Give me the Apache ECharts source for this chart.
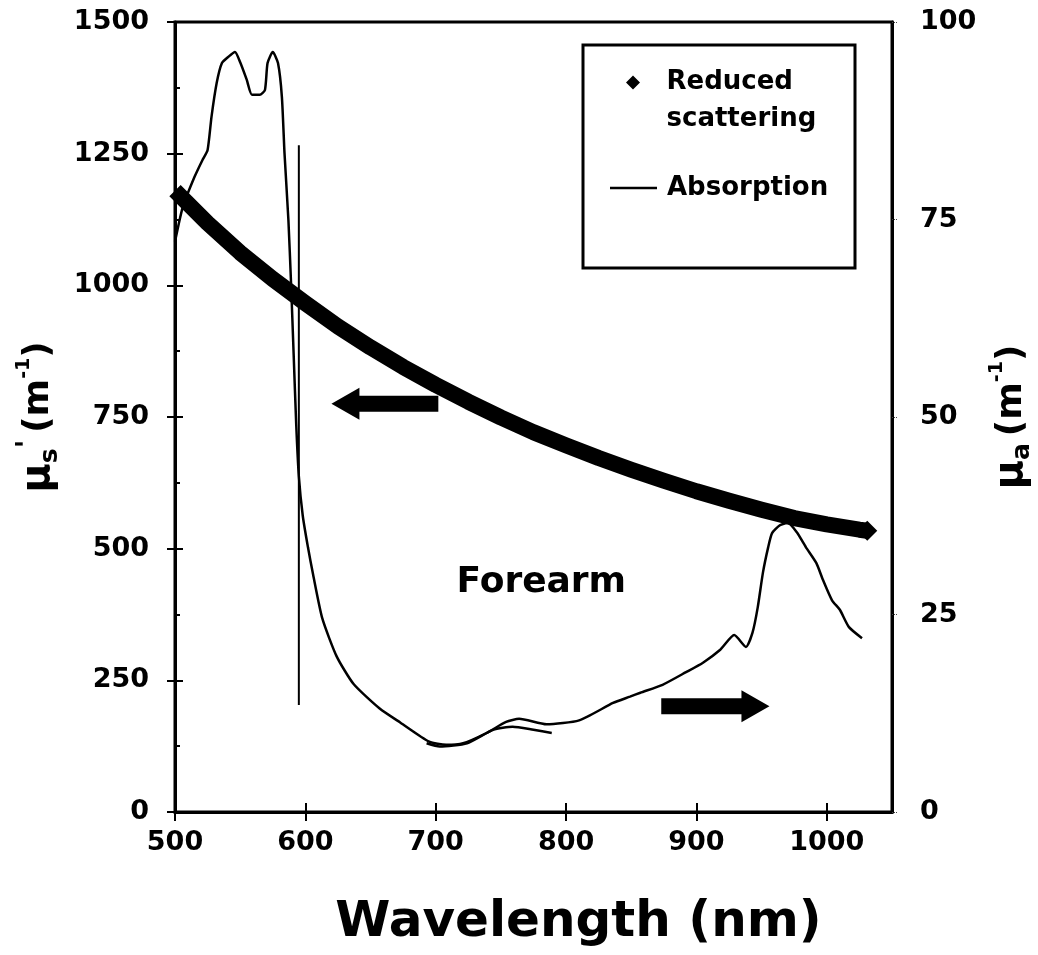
<!DOCTYPE html>
<html>
<head>
<meta charset="utf-8">
<title>Forearm</title>
<script src="https://cdn.jsdelivr.net/npm/echarts@6/dist/echarts.min.js"></script>
<style>
  html, body { margin: 0; padding: 0; background: #fff; }
  #chart-container { width: 1038px; height: 955px; }
</style>
</head>
<body>
<div id="chart-container"></div>
<script>
// reduced scattering, mu_s' (1/m)
var scatterNm = [500, 525, 550, 575, 600, 625, 650, 675, 700, 725, 750, 775, 800, 825, 850, 875, 900, 925, 950, 975, 1000, 1025, 1031];
var scatterVal = [1180, 1118, 1062, 1012, 966, 922, 882, 845, 811, 779, 749, 721, 696, 672, 650, 629, 609, 591, 574, 558, 546, 536, 534];

// absorption, mu_a (1/m)
var absNm = [500, 506, 515, 521, 525, 528, 532, 536, 541, 546, 550, 555, 559, 565, 569, 571, 575, 579, 582, 584, 587, 589, 591, 593, 595, 598, 602, 606, 613, 624, 637, 657, 673, 695, 708, 721, 739, 754, 764, 785, 810, 836, 849, 857, 874, 892, 905, 918, 929, 938, 943, 947, 951, 955, 958, 964, 970, 977, 984, 992, 997, 1004, 1010, 1017, 1027];
var absVal = [72.2, 76.6, 80.4, 82.5, 83.8, 88.0, 92.3, 94.8, 95.6, 96.2, 94.9, 92.7, 90.8, 90.8, 91.4, 94.8, 96.2, 94.8, 90.5, 83.4, 74.9, 67.0, 58.0, 49.0, 42.5, 37.5, 33.5, 30.0, 24.5, 19.7, 16.2, 13.1, 11.3, 8.9, 8.5, 8.7, 10.0, 11.4, 11.8, 11.1, 11.6, 13.8, 14.6, 15.1, 16.1, 17.7, 18.9, 20.5, 22.4, 20.9, 22.7, 25.9, 30.3, 33.5, 35.3, 36.3, 36.6, 35.4, 33.5, 31.5, 29.4, 26.8, 25.6, 23.4, 22.0];

// second (repeat) absorption trace around the minimum
var absNm2 = [693, 703, 724, 744, 759, 775, 789];
var absVal2 = [8.7, 8.3, 8.7, 10.4, 10.8, 10.4, 10.0];

// stray vertical trace near 595 nm (left axis units)
var traceNm = [595, 595];
var traceVal = [1266, 203];

// axis ranges: [min, max, interval]
var xRange = [500, 1050, 100];
var leftRange = [0, 1500, 250];
var rightRange = [0, 100, 25];

function pairs(xs, ys) {
  return xs.map(function (x, i) { return [x, ys[i]]; });
}

var FONT = "DejaVu Sans";
var black = "#000";

var dom = document.getElementById("chart-container");
var myChart = echarts.init(dom, null, { renderer: "canvas" });

function tok(size, extra) {
  var s = { fontFamily: FONT, fontWeight: "bold", color: black, fontSize: size };
  for (var k in extra) s[k] = extra[k];
  return s;
}

function plain(v) {
  return String(v);
}

var scatterData = pairs(scatterNm, scatterVal);
var last = scatterData.pop();
scatterData.push({ value: last, symbol: "diamond", symbolSize: 20 });

var titleRich = {
  mu: tok(40, { lineHeight: 48 }),
  sub: tok(25, { verticalAlign: "bottom", lineHeight: 20 }),
  pr: tok(28, { verticalAlign: "top", lineHeight: 24 }),
  sp: tok(20, {}),
  par: tok(36, { lineHeight: 48 }),
  sup: tok(19, { verticalAlign: "top", lineHeight: 16 }),
};

var option;
option = {
  animation: false,
  backgroundColor: "#fff",
  grid: {
    left: 175, right: 146, top: 22, bottom: 143,
    outerBoundsMode: "none",
    containLabel: false,
    show: true, borderColor: black, borderWidth: 3,
  },
  legend: [
    {
      data: [{ name: "Reduced scattering", icon: "path://M7,0L14,7L7,14L0,7Z M7,51L7.01,51" }],
      orient: "vertical",
      left: 626, top: 64, padding: 0,
      itemWidth: 47, itemHeight: 51,
      symbolKeepAspect: true,
      itemStyle: { color: black, borderWidth: 0 },
      formatter: function () { return "Reduced\nscattering"; },
      textStyle: { fontFamily: FONT, fontWeight: "bold", fontSize: 26, color: black, lineHeight: 37, padding: [0, 0, 0, 5] },
    },
    {
      data: [{ name: "Absorption", icon: "path://M0,0L47,0L47,2.5L0,2.5Z" }],
      orient: "vertical",
      left: 610, top: 173, padding: 0,
      itemWidth: 47, itemHeight: 14,
      symbolKeepAspect: true,
      itemStyle: { color: black, borderWidth: 0 },
      textStyle: { fontFamily: FONT, fontWeight: "bold", fontSize: 26, color: black, lineHeight: 30, padding: [0, 0, 0, 5] },
    },
  ],
  xAxis: [
    {
      type: "value",
      min: xRange[0], max: xRange[1], interval: xRange[2],
      position: "bottom",
      axisLine: { onZero: false, lineStyle: { color: black, width: 3 } },
      axisTick: { length: 9, lineStyle: { color: black, width: 2 } },
      axisLabel: { showMaxLabel: false, margin: 17, formatter: plain, fontFamily: FONT, fontWeight: "bold", fontSize: 27, color: black },
      splitLine: { show: false },
      name: "Wavelength (nm)",
      nameLocation: "middle",
      nameGap: 86,
      nameTextStyle: { fontFamily: FONT, fontWeight: "bold", fontSize: 50, color: black, padding: [0, 0, 0, 90] },
    },
    {
      // inner half of the crossing ticks
      type: "value",
      min: xRange[0], max: xRange[1], interval: xRange[2],
      position: "bottom",
      axisLine: { show: false, onZero: false },
      axisTick: { show: true, inside: true, length: 9, lineStyle: { color: black, width: 2 } },
      axisLabel: { show: false },
      splitLine: { show: false },
    },
  ],
  yAxis: [
    {
      type: "value",
      min: leftRange[0], max: leftRange[1], interval: leftRange[2],
      position: "left",
      axisLine: { show: true, lineStyle: { color: black, width: 3 } },
      axisTick: { length: 8, lineStyle: { color: black, width: 2 } },
      axisLabel: { margin: 26, formatter: plain, fontFamily: FONT, fontWeight: "bold", fontSize: 27, color: black },
      splitLine: { show: false },
      name: "{mu|μ}{sub|s}{pr|'}{sp| }{par|(m}{sup|-1}{par|)}",
      nameLocation: "middle",
      nameRotate: 90,
      nameGap: 106,
      nameTextStyle: { rich: titleRich },
    },
    {
      type: "value",
      min: rightRange[0], max: rightRange[1], interval: rightRange[2],
      position: "right",
      axisLine: { show: true, lineStyle: { color: black, width: 3 } },
      axisTick: { length: 6, lineStyle: { color: "#444", width: 1, type: "dotted" } },
      axisLabel: { margin: 28, formatter: plain, fontFamily: FONT, fontWeight: "bold", fontSize: 27, color: black },
      splitLine: { show: false },
      name: "{mu|μ}{sub|a}{sp| }{par|(m}{sup|-1}{par|)}",
      nameLocation: "middle",
      nameRotate: 90,
      nameGap: 92,
      nameTextStyle: { rich: titleRich },
    },
    {
      // inner half of the left ticks + minor ticks
      type: "value",
      min: leftRange[0], max: leftRange[1], interval: leftRange[2],
      position: "left",
      axisLine: { show: false },
      axisTick: { show: true, inside: true, length: 8, lineStyle: { color: black, width: 2 } },
      minorTick: { show: true, splitNumber: 2, length: 5, lineStyle: { color: black, width: 2 } },
      axisLabel: { show: false },
      splitLine: { show: false },
    },
  ],
  series: [
    {
      name: "Reduced scattering",
      type: "line",
      xAxisIndex: 0, yAxisIndex: 0,
      data: scatterData,
      symbol: "none",
      itemStyle: { color: black },
      lineStyle: { color: black, width: 16, join: "round" },
      z: 2,
    },
    {
      name: "Absorption",
      type: "line",
      xAxisIndex: 0, yAxisIndex: 1,
      data: pairs(absNm, absVal),
      symbol: "none",
      smooth: 0.2,
      itemStyle: { color: black },
      lineStyle: { color: black, width: 2.5 },
      z: 3,
    },
    {
      name: "Absorption",
      type: "line",
      xAxisIndex: 0, yAxisIndex: 1,
      data: pairs(absNm2, absVal2),
      symbol: "none",
      smooth: 0.2,
      itemStyle: { color: black },
      lineStyle: { color: black, width: 2.5 },
      z: 3,
    },
    {
      name: "trace",
      type: "line",
      xAxisIndex: 0, yAxisIndex: 0,
      data: pairs(traceNm, traceVal),
      symbol: "none",
      itemStyle: { color: black },
      lineStyle: { color: black, width: 2 },
      z: 3,
    },
  ],
};

myChart.setOption(option);

// annotations placed in data coordinates
var leftArrow = { tail: [702, 775], tip: [620, 775], y: 0 };
var rightArrow = { tail: [873, 13.4], tip: [956, 13.4], y: 1 };
var labelPos = [781, 435];

function toPx(p, yIdx) {
  return myChart.convertToPixel({ xAxisIndex: 0, yAxisIndex: yIdx }, p);
}

function arrowShape(a) {
  var t0 = toPx(a.tail, a.y);
  var t1 = toPx(a.tip, a.y);
  var dir = t1[0] > t0[0] ? 1 : -1;
  var neck = t1[0] - dir * 28;
  var y = t1[1];
  return [[t0[0], y - 8], [neck, y - 8], [neck, y - 16], [t1[0], y], [neck, y + 16], [neck, y + 8], [t0[0], y + 8]];
}

var lp = toPx(labelPos, 0);

myChart.setOption({
  graphic: [
    {
      type: "rect", z: 100,
      shape: { x: 583, y: 45, width: 272, height: 223 },
      style: { fill: "none", stroke: black, lineWidth: 3 },
    },
    { type: "polygon", z: 100, shape: { points: arrowShape(leftArrow) }, style: { fill: black } },
    { type: "polygon", z: 100, shape: { points: arrowShape(rightArrow) }, style: { fill: black } },
    {
      type: "text", z: 100,
      style: {
        text: "Forearm", x: lp[0], y: lp[1],
        fontFamily: FONT, fontWeight: "bold", fontSize: 36, fill: black,
        align: "center", verticalAlign: "middle",
      },
    },
  ],
});

window.onresize = function () {
  myChart.resize();
};
</script>
</body>
</html>
